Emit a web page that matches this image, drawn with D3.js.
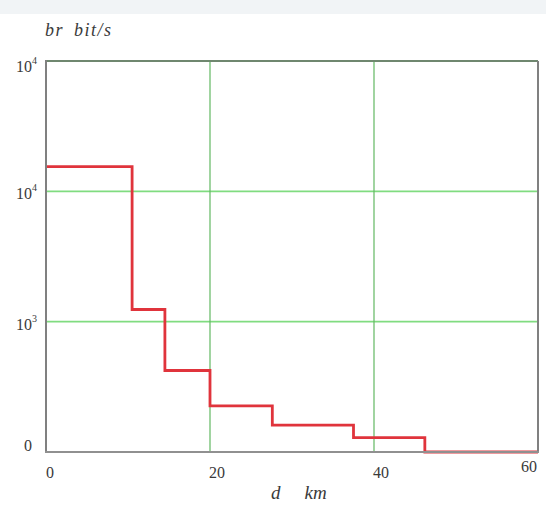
<!DOCTYPE html>
<html><head><meta charset="utf-8">
<script src="https://cdn.jsdelivr.net/npm/d3@7"></script>
<style>
html,body{margin:0;padding:0;background:#fff;}
svg{display:block;}
text{font-family:"Liberation Serif","DejaVu Serif",serif;fill:#3a3a3a;}
</style></head>
<body>
<svg id="c" width="546" height="505"></svg>
<script>
// Data
const dEdges = [0, 10.5, 14.5, 20, 27.6, 37.5, 46.2, 60];
const brValues = [15500, 1240, 422, 226, 161, 129, 100];
const xTicks = [0, 20, 40, 60];
const yTicks = [100, 1000, 10000, 100000];
const yTickBase = ["0", "10", "10", "10"];
const yTickExp = ["", "3", "4", "4"];
const yTitleParts = ["br", "bit/s"];
const xTitleParts = ["d", "km"];

const svg = d3.select("#c");
const W = 546, H = 505;
const L = 46, R = 538, T = 61, B = 452;

svg.append("rect").attr("x",0).attr("y",0).attr("width",W).attr("height",H).attr("fill","#fff");
svg.append("rect").attr("x",0).attr("y",0).attr("width",W).attr("height",14).attr("fill","#f1f4f6");

const x = d3.scaleLinear().domain([0,60]).range([L,R]);
const y = d3.scaleLog().domain([100,100000]).range([B,T]);

// grid
svg.append("g").selectAll("line").data(yTicks.filter(v=>v>100 && v<100000)).join("line")
  .attr("x1",L).attr("x2",R).attr("y1",d=>y(d)).attr("y2",d=>y(d))
  .attr("stroke","#80dc80").attr("stroke-width",1.8);
svg.append("g").selectAll("line").data(xTicks.filter(v=>v>0 && v<60)).join("line")
  .attr("x1",d=>x(d)).attr("x2",d=>x(d)).attr("y1",T).attr("y2",B)
  .attr("stroke","#62b862").attr("stroke-width",1.2);

// step line
const pts = dEdges.map((d,i)=>[d, brValues[Math.min(i, brValues.length-1)]]);
const line = d3.line().x(d=>x(d[0])).y(d=>y(d[1])).curve(d3.curveStepAfter);
svg.append("path").attr("d", line(pts)).attr("fill","none")
  .attr("stroke","#e0343c").attr("stroke-width",2.8).attr("stroke-linejoin","miter");

// frame
svg.append("line").attr("x1",L).attr("x2",R).attr("y1",T).attr("y2",T).attr("stroke","#6f876f").attr("stroke-width",2);
svg.append("line").attr("x1",R).attr("x2",R).attr("y1",T).attr("y2",B).attr("stroke","#808080").attr("stroke-width",2);
svg.append("line").attr("x1",L).attr("x2",L).attr("y1",T-1).attr("y2",B+1).attr("stroke","#808080").attr("stroke-width",2);
svg.append("line").attr("x1",L-1).attr("x2",R+1).attr("y1",B).attr("y2",B).attr("stroke","#909090").attr("stroke-width",2);

// x tick labels
svg.append("g").selectAll("text").data(xTicks).join("text")
  .attr("x",(d,i)=> i===xTicks.length-1 ? x(d)-1 : x(d)+(i===0?4:7))
  .attr("y",(d,i)=> i===xTicks.length-1 ? 472 : 478)
  .attr("text-anchor",(d,i)=> i===xTicks.length-1 ? "end" : "middle")
  .attr("font-size",16).text(d=>d);

// y tick labels
const yl = svg.append("g").selectAll("text").data(yTicks).join("text")
  .attr("x",(d,i)=> i===0 ? 24 : 16)
  .attr("y",(d,i)=> i===0 ? y(d)-1 : (i===yTicks.length-1 ? y(d)+11 : y(d)+8))
  .attr("font-size",16);
yl.append("tspan").text((d,i)=>yTickBase[i]);
yl.append("tspan").attr("dy",-8).attr("font-size",10).text((d,i)=>yTickExp[i]);

// titles
const yt = svg.append("text").attr("x",45).attr("y",36).attr("font-size",18)
  .attr("font-style","italic").attr("letter-spacing",1.5);
yt.append("tspan").text(yTitleParts[0]);
yt.append("tspan").attr("dx",10).text(yTitleParts[1]);
const xt = svg.append("text").attr("x",271).attr("y",499).attr("font-size",19).attr("font-style","italic");
xt.append("tspan").text(xTitleParts[0]);
xt.append("tspan").attr("dx",24).text(xTitleParts[1]);
</script>
</body></html>
